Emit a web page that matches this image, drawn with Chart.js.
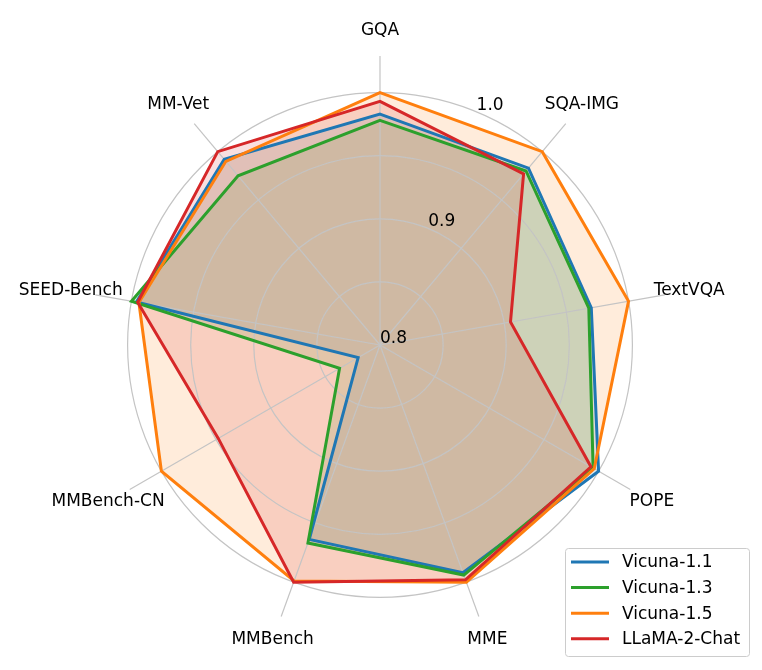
<!DOCTYPE html>
<html>
<head>
<meta charset="utf-8">
<script src="https://cdn.jsdelivr.net/npm/chart.js@4.4.1/dist/chart.umd.min.js"></script>
<style>
  html, body { margin: 0; padding: 0; background: #fff; }
  canvas { display: block; background: #fff; }
</style>
</head>
<body>
<canvas id="radarChart" width="762" height="670"></canvas>
<script>
// benchmarks, clockwise from the top
const benchmarks = ['GQA', 'SQA-IMG', 'TextVQA', 'POPE', 'MME', 'MMBench', 'MMBench-CN', 'SEED-Bench', 'MM-Vet'];
// relative scores (best model = 1.0)
const vicuna11 = [0.983, 0.983, 0.970, 1.000, 0.992, 0.964, 0.820, 0.996, 0.992];
const vicuna13 = [0.978, 0.980, 0.968, 0.995, 0.994, 0.967, 0.837, 1.000, 0.975];
const vicuna15 = [1.000, 1.000, 1.000, 0.996, 1.000, 0.999, 1.000, 0.994, 0.990];
const llama2chat = [0.993, 0.977, 0.905, 0.993, 0.998, 1.000, 0.948, 0.995, 1.000];
const seriesNames = ['Vicuna-1.1', 'Vicuna-1.3', 'Vicuna-1.5', 'LLaMA-2-Chat'];
const seriesColors = ['#1f77b4', '#2ca02c', '#ff7f0e', '#d62728'];
const tickLabels = [0.8, 0.9, 1.0];

const FONT = '17px "DejaVu Sans"';

function fillColor(hex) {
    let r = parseInt(hex.slice(1, 3), 16), g = parseInt(hex.slice(3, 5), 16), b = parseInt(hex.slice(5, 7), 16);
    return 'rgba(' + r + ',' + g + ',' + b + ',0.15)';
}

// axis names, radial tick labels and legend (matplotlib style)
const labelPlugin = {
    id: 'labels',
    afterDraw(chart) {
        const ctx = chart.ctx;
        const scale = chart.scales.r;
        ctx.save();
        ctx.font = FONT;
        ctx.fillStyle = '#000';

        // benchmark names, centred beyond the axis ends
        ctx.textAlign = 'center';
        ctx.textBaseline = 'middle';
        benchmarks.forEach((name, i) => {
            const p = scale.getPointPosition(i, scale.drawingArea + 25);
            ctx.fillText(name, p.x, p.y);
        });

        // radial tick labels at 22.5 degrees
        const a = 22.5 * Math.PI / 180;
        ctx.textAlign = 'left';
        ctx.textBaseline = 'bottom';
        tickLabels.forEach(v => {
            const d = scale.getDistanceFromCenterForValue(v);
            ctx.fillText(v.toFixed(1), scale.xCenter + d * Math.sin(a), scale.yCenter - d * Math.cos(a) + 2);
        });

        // legend box
        const bx = 565, by = 548, bw = 184, bh = 108;
        ctx.fillStyle = 'rgba(255,255,255,0.85)';
        ctx.strokeStyle = '#cccccc';
        ctx.lineWidth = 1;
        ctx.beginPath();
        ctx.roundRect(bx + 0.5, by + 0.5, bw, bh, 3);
        ctx.fill();
        ctx.stroke();
        ctx.textBaseline = 'middle';
        seriesNames.forEach((name, i) => {
            const y = by + 14 + i * 25.6;
            ctx.strokeStyle = seriesColors[i];
            ctx.lineWidth = 3;
            ctx.beginPath();
            ctx.moveTo(bx + 6, y);
            ctx.lineTo(bx + 44, y);
            ctx.stroke();
            ctx.fillStyle = '#000';
            ctx.fillText(name, bx + 57, y + 1);
        });
        ctx.restore();
    }
};

const allSeries = [vicuna11, vicuna13, vicuna15, llama2chat];
const dataSets = allSeries.map((vals, i) => ({
    label: seriesNames[i],
    data: vals,
    borderColor: seriesColors[i],
    backgroundColor: fillColor(seriesColors[i]),
    borderWidth: 3,
    fill: 'start',
    pointRadius: 0,
    pointHoverRadius: 0,
    order: allSeries.length - i
}));

Chart.defaults.font.family = '"DejaVu Sans"';

new Chart(document.getElementById('radarChart'), {
    type: 'radar',
    data: {
        labels: benchmarks,
        datasets: dataSets
    },
    options: {
        responsive: false,
        animation: false,
        layout: {
            padding: { left: 91, right: 93, top: 56, bottom: 36 }
        },
        elements: {
            line: { tension: 0, borderJoinStyle: 'miter' }
        },
        plugins: {
            legend: { display: false },
            tooltip: { enabled: false },
            // fills first, then the grid, then the outlines
            filler: { drawTime: 'beforeDraw' }
        },
        scales: {
            r: {
                min: 0.8,
                max: 1.029,
                ticks: { display: false, stepSize: 0.05 },
                pointLabels: { display: false },
                grid: {
                    circular: true,
                    lineWidth: 1.2,
                    color: (c) => (c.tick && c.tick.value <= 1.0001) ? '#c4c4c4' : 'rgba(0,0,0,0)'
                },
                angleLines: { color: '#c4c4c4', lineWidth: 1.2 }
            }
        }
    },
    plugins: [labelPlugin]
});
</script>
</body>
</html>
